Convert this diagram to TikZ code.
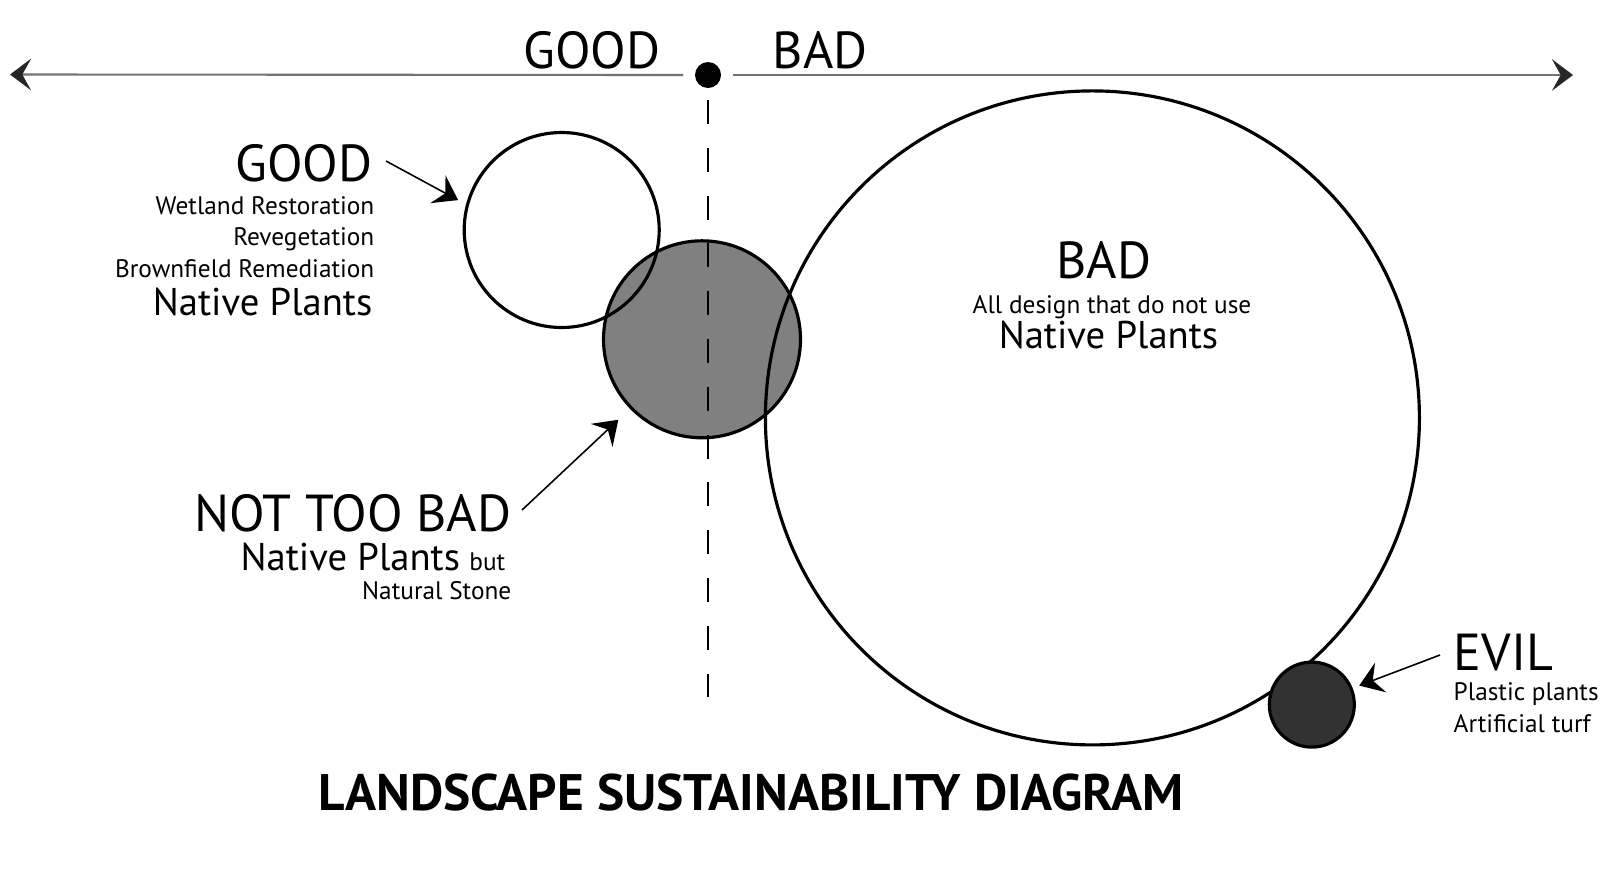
\documentclass[tikz,border=0pt]{standalone}
\usepackage{fontspec}
\setmainfont{PT Sans}
\usetikzlibrary{arrows.meta,positioning}
\definecolor{CircleGrey}{RGB}{128,128,128}
\definecolor{EvilDark}{RGB}{50,50,50}
\definecolor{AxisGrey}{RGB}{115,115,115}

\begin{document}
\begin{tikzpicture}[
    ring/.style={circle, draw, line width=0.9pt, inner sep=0pt},
    biglbl/.style={inner sep=0pt, font=\fontsize{14.8}{16}\selectfont},
    midlbl/.style={inner sep=0pt, font=\fontsize{11.0}{13}\selectfont},
    note/.style={inner sep=0pt, font=\fontsize{7.2}{8}\selectfont},
    pointer/.style={line width=0.45pt, -{Stealth[length=6.5pt,width=9pt,inset=2.4pt]}},
    axis/.style={AxisGrey, line width=0.6pt, -{Stealth[length=6pt,width=9pt,inset=2.5pt,color=black!85]}},
    divider/.style={line width=0.7pt, dash pattern=on 6.8pt off 6.8pt}
  ]
    \useasboundingbox (0,0) rectangle (16,-8.8);

    % Good / bad scale
    \node[circle, fill=black, inner sep=0pt, minimum size=0.26cm, outer sep=0.12cm] (pivot) at (7.08,-0.75) {};
    \coordinate (leftend) at (0.10,-0.745);
    \coordinate (rightend) at (15.73,-0.75);
    \draw[axis] (pivot.west) -- (leftend);
    \draw[axis] (pivot.east) -- (rightend);
    \node[biglbl, anchor=base east] (topgood) at (6.61,-0.685) {GOOD};
    \node[biglbl, anchor=base west] (topbad) at (7.72,-0.685) {BAD};

    % Circles
    \node[ring, fill=CircleGrey, minimum size=1.97cm] (greyc) at (7.02,-3.393) {};
    \coordinate (divend) at (7.08,-7.17);
    \draw[divider] (pivot.south) -- (divend);
    \node[ring, minimum size=1.95cm] (goodc) at (5.617,-2.30) {};
    \node[ring, minimum size=6.54cm] (badc) at (10.924,-4.179) {};
    \node[ring, fill=EvilDark, minimum size=0.85cm] (evilc) at (13.118,-7.046) {};

    % Good
    \node[biglbl, anchor=base east] (goodlbl) at (3.73,-1.81) {GOOD};
    \node[note, anchor=base east] (wetland) at (3.75,-2.14) {Wetland Restoration};
    \node[note, anchor=base east] (reveg) at (3.75,-2.456) {Revegetation};
    \node[note, anchor=base east] (brownf) at (3.75,-2.772) {Brownfield Remediation};
    \node[midlbl, anchor=base east] (goodnat) at (3.73,-3.15) {Native Plants};
    \coordinate (goodtail) at (3.86,-1.61);
    \draw[pointer, shorten >=0.09cm] (goodtail) -- (goodc.165);

    % Not too bad
    \node[biglbl, anchor=base east] (ntblbl) at (5.12,-5.315) {NOT TOO BAD};
    \node[inner sep=0pt, anchor=base east] (ntbnat) at (5.06,-5.70)
      {{\fontsize{11.0}{13}\selectfont Native Plants} {\fontsize{7.2}{8}\selectfont but}};
    \node[note, anchor=base east] (stone) at (5.12,-5.99) {Natural Stone};
    \coordinate (ntbtail) at (5.22,-5.10);
    \draw[pointer, shorten >=0.16cm] (ntbtail) -- (greyc.224);

    % Bad
    \node[biglbl, anchor=base] (badlbl) at (11.04,-2.78) {BAD};
    \node[note, anchor=base] (alldes) at (11.12,-3.13) {All design that do not use};
    \node[midlbl, anchor=base] (badnat) at (11.085,-3.48) {Native Plants};

    % Evil
    \node[biglbl, anchor=base west] (evillbl) at (14.53,-6.70) {EVIL};
    \node[note, anchor=base west] (plastic) at (14.53,-7.00) {Plastic plants};
    \node[note, anchor=base west] (turf) at (14.53,-7.32) {Artificial turf};
    \coordinate (eviltail) at (14.40,-6.55);
    \draw[pointer, shorten >=0.07cm] (eviltail) -- (evilc.22);

    % Title
    \node[inner sep=0pt, anchor=base, font=\fontsize{14.6}{16}\bfseries\selectfont] (title) at (7.51,-8.10)
      {LANDSCAPE SUSTAINABILITY DIAGRAM};
\end{tikzpicture}
\end{document}
